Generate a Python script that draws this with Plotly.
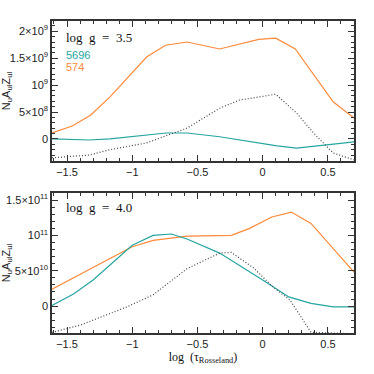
import plotly.graph_objects as go
from plotly.subplots import make_subplots

# top panel, log g = 3.5
x_or_top = [-1.615, -1.46, -1.32, -1.17, -0.89, -0.745, -0.58, -0.33, -0.03, 0.10, 0.25, 0.54, 0.70]
y_or_top = [1.1e8, 2.4e8, 4.4e8, 7.8e8, 1.52e9, 1.74e9, 1.80e9, 1.67e9, 1.85e9, 1.87e9, 1.67e9, 6.9e8, 3.9e8]
x_te_top = [-1.615, -1.33, -1.17, -0.89, -0.74, -0.58, -0.33, 0.11, 0.26, 0.49, 0.70]
y_te_top = [0.0, -0.2e8, 0.0, 0.74e8, 1.1e8, 1.1e8, 0.4e8, -1.3e8, -1.7e8, -1.1e8, -0.55e8]
x_dot_top = [-1.615, -1.33, -1.17, -0.89, -0.58, -0.33, -0.18, -0.03, 0.10, 0.26, 0.39, 0.54, 0.70]
y_dot_top = [-3.5e8, -3.0e8, -2.0e8, -0.74e8, 2.0e8, 5.7e8, 7.2e8, 7.8e8, 8.3e8, 4.8e8, 1.1e8, -2.6e8, -3.9e8]

# bottom panel, log g = 4.0
x_or_bot = [-1.615, -1.0, -0.84, -0.58, -0.24, -0.10, 0.07, 0.22, 0.37, 0.70]
y_or_bot = [2.4e10, 8.4e10, 9.3e10, 9.9e10, 1.0e11, 1.1e11, 1.26e11, 1.33e11, 1.17e11, 4.8e10]
x_te_bot = [-1.615, -1.45, -1.30, -1.0, -0.84, -0.70, -0.58, -0.33, 0.0, 0.20, 0.37, 0.54, 0.70]
y_te_bot = [1e9, 1.7e10, 3.7e10, 8.6e10, 1.0e11, 1.02e11, 9.5e10, 7.5e10, 3.7e10, 1.3e10, 4e9, -1e9, -1e9]
x_dot_bot = [-1.615, -1.40, -1.04, -0.84, -0.58, -0.33, -0.24, -0.07, 0.08, 0.21, 0.37, 0.70]
y_dot_bot = [-3.7e10, -2.7e10, -1e9, 1.6e10, 5.3e10, 7.5e10, 7.6e10, 5.4e10, 2.7e10, 8.5e9, -3.7e10, -3.9e10]

ORANGE = '#ff8a3a'
TEAL = '#25a5a0'
DOT = '#444444'

top_vals = [0, 5e8, 1e9, 1.5e9, 2e9]
top_text = ['0', '5×10<sup>8</sup>', '10<sup>9</sup>', '1.5×10<sup>9</sup>', '2×10<sup>9</sup>']
bot_vals = [0, 5e10, 1e11, 1.5e11]
bot_text = ['0', '5×10<sup>10</sup>', '10<sup>11</sup>', '1.5×10<sup>11</sup>']
x_vals = [-1.5, -1, -0.5, 0, 0.5]
x_text = ['−1.5', '−1', '−0.5', '0', '0.5']

fig = make_subplots(rows=2, cols=1, vertical_spacing=32 / 312)

for row, series in [(1, [(x_or_top, y_or_top, ORANGE, 'solid'), (x_te_top, y_te_top, TEAL, 'solid'),
                         (x_dot_top, y_dot_top, DOT, '1px,2px')]),
                    (2, [(x_or_bot, y_or_bot, ORANGE, 'solid'), (x_te_bot, y_te_bot, TEAL, 'solid'),
                         (x_dot_bot, y_dot_bot, DOT, '1px,2px')])]:
    for xs, ys, c, d in series:
        fig.add_trace(go.Scatter(x=xs, y=ys, mode='lines', showlegend=False,
                                 line=dict(color=c, width=1.2, dash=d)), row=row, col=1)

axis_style = dict(showgrid=False, zeroline=False, showline=True, linecolor='#333', linewidth=1.5,
                  mirror='ticks', ticks='inside', ticklen=6, tickwidth=1.2, tickcolor='#333',
                  automargin=False,
                  tickfont=dict(family='Liberation Sans', size=11, color='#222'))

for row in (1, 2):
    fig.update_xaxes(range=[-1.615, 0.7], tickvals=x_vals, ticktext=x_text,
                     minor=dict(ticks='inside', dtick=0.1, ticklen=3, tickcolor='#333'),
                     row=row, col=1, **axis_style)

fig.update_yaxes(range=[-4.1e8, 2.19e9], tickvals=top_vals, ticktext=top_text,
                 minor=dict(ticks='inside', tickvals=[i * 1e8 for i in range(-4, 22)], ticklen=3, tickcolor='#333'),
                 row=1, col=1, **axis_style)
fig.update_yaxes(range=[-3.8e10, 1.6e11], tickvals=bot_vals, ticktext=bot_text,
                 minor=dict(ticks='inside', tickvals=[i * 1e10 for i in range(-3, 16)], ticklen=3, tickcolor='#333'),
                 row=2, col=1, **axis_style)

serif = dict(family='Liberation Serif', size=13, color='#111')
fig.add_annotation(text='log  g  =  3.5', x=0.04, y=0.88, xref='x domain', yref='y domain',
                   xanchor='left', yanchor='middle', showarrow=False, font=serif)
fig.add_annotation(text='5696', x=0.04, y=0.755, xref='x domain', yref='y domain',
                   xanchor='left', yanchor='middle', showarrow=False,
                   font=dict(family='Liberation Sans', size=11, color=TEAL))
fig.add_annotation(text='574', x=0.04, y=0.675, xref='x domain', yref='y domain',
                   xanchor='left', yanchor='middle', showarrow=False,
                   font=dict(family='Liberation Sans', size=11, color=ORANGE))
fig.add_annotation(text='log  g  =  4.0', x=0.04, y=0.895, xref='x2 domain', yref='y2 domain',
                   xanchor='left', yanchor='middle', showarrow=False, font=serif)

ytitle = 'N<sub>u</sub>A<sub>ul</sub>Z<sub>ul</sub>'
for row in (1, 2):
    fig.update_yaxes(title=dict(text=ytitle, standoff=3,
                                font=dict(family='Liberation Sans', size=11, color='#222')),
                     row=row, col=1)
fig.update_xaxes(title=dict(text='log  (τ<sub>Rosseland</sub>)', standoff=2,
                            font=dict(family='Liberation Serif', size=12, color='#111')),
                 row=2, col=1)

fig.update_layout(width=374, height=374, margin=dict(l=52, r=20, t=21, b=41),
                  plot_bgcolor='white', paper_bgcolor='white')

fig.write_html("out.html", config={'displayModeBar': False},
               post_script="document.body.style.margin='0';")
